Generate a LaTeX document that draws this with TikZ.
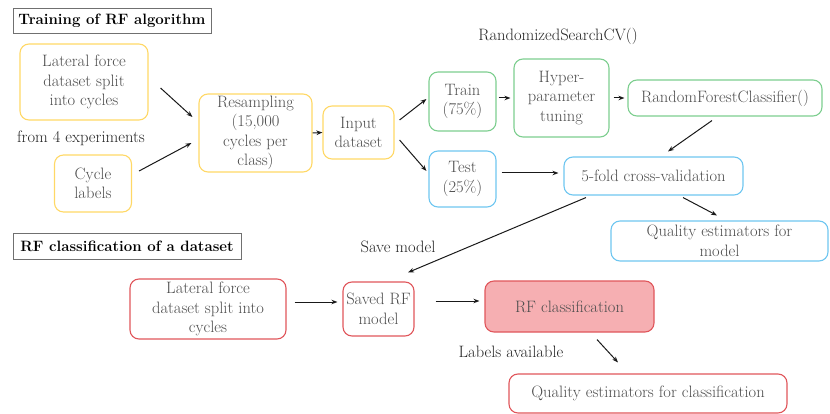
\documentclass[tikz,border=0pt]{standalone}
\usetikzlibrary{arrows.meta,calc}
\definecolor{txtgray}{HTML}{4D4D4D}
\definecolor{cyel}{HTML}{FFD866}
\definecolor{cgrn}{HTML}{7DCE8F}
\definecolor{cblu}{HTML}{6EC6F0}
\definecolor{cred}{HTML}{E0565B}
\definecolor{cpink}{HTML}{F6AFB2}
\definecolor{cframe}{HTML}{707070}
\tikzset{
  box/.style={draw, line width=1.1pt, rounded corners=9pt, align=center,
    text=txtgray, inner sep=1pt, font=\fontsize{16.5}{19.5}\selectfont},
  ybox/.style={box, draw=cyel},
  gbox/.style={box, draw=cgrn},
  bbox/.style={box, draw=cblu},
  rbox/.style={box, draw=cred},
  heading/.style={draw=cframe, line width=1pt, text=black, inner sep=1pt,
    font=\fontsize{15}{18}\selectfont\bfseries},
  note/.style={text=black!85, font=\fontsize{16.5}{19}\selectfont},
  arr/.style={-{Stealth[length=6pt,width=4.5pt]}, line width=1pt, black!90},
}
\begin{document}
\begin{tikzpicture}[x=1pt,y=-1pt]
\useasboundingbox (0,0) rectangle (830,414);

% ---- training part ----
\node[heading, minimum width=198pt, minimum height=25pt] (t1) at (112,21) {Training of RF algorithm};
\node[ybox, minimum width=128pt, minimum height=76pt] (lf1) at (84,82) {Lateral force\\dataset split\\into cycles};
\node[note] (exp) at (81,138) {from 4 experiments};
\node[ybox, minimum width=77pt, minimum height=57pt] (cyc) at (93,183.5) {Cycle\\labels};
\node[ybox, minimum width=113pt, minimum height=78pt] (res) at (255.5,133) {Resampling\\(15,000\\cycles per\\class)};
\node[ybox, minimum width=71pt, minimum height=53pt] (inp) at (358.5,132.5) {Input\\dataset};
\node[note] (rscv) at (558,36) {RandomizedSearchCV()};
\node[gbox, minimum width=67pt, minimum height=59pt] (train) at (462.5,101.5) {Train\\(75\%)};
\node[gbox, minimum width=95pt, minimum height=78pt] (hyp) at (561.5,98) {Hyper-\\parameter\\tuning};
\node[gbox, minimum width=194pt, minimum height=36pt] (rfc) at (725,98) {RandomForestClassifier()};
\node[bbox, minimum width=67pt, minimum height=56pt] (test) at (462.5,179) {Test\\(25\%)};
\node[bbox, minimum width=179pt, minimum height=38pt] (cv) at (653.5,176) {5-fold cross-validation};
\node[bbox, minimum width=217pt, minimum height=40pt] (qm) at (719.5,241) {Quality estimators for\\model};

% ---- classification part ----
\node[heading, minimum width=228pt, minimum height=25pt] (t2) at (127,246.5) {RF classification of a dataset};
\node[note] (save) at (398,247) {Save model};
\node[rbox, minimum width=156pt, minimum height=60pt] (lf2) at (208,309) {Lateral force\\dataset split into\\cycles};
\node[rbox, minimum width=71pt, minimum height=54pt] (srf) at (378.5,309) {Saved RF\\model};
\node[rbox, fill=cpink, minimum width=169pt, minimum height=51pt] (rfcl) at (569.5,306.5) {RF classification};
\node[note] (lab) at (511,352) {Labels available};
\node[rbox, minimum width=278pt, minimum height=39pt] (qc) at (648,393.5) {Quality estimators for classification};

% ---- connectors ----
\draw[arr] ($(lf1.east)+(12,6)$) -- ($(res.west)+(-6,-16)$);
\draw[arr] ($(cyc.east)+(7,-12.5)$) -- ($(res.west)+(-7,10)$);
\draw[arr] (res.east) -- (inp.west);
\draw[arr] ($(inp.east)+(5,-12.5)$) -- ($(train.west)+(-2,-2.5)$);
\draw[arr] ($(inp.east)+(5,7.5)$) -- ($(test.west)+(-2,-8)$);
\draw[arr] ($(train.east)+(2,-3.5)$) -- ($(hyp.west)+(-3,0)$);
\draw[arr] ($(hyp.east)+(4,0)$) -- ($(rfc.west)+(-3,0)$);
\draw[arr] ($(rfc.south)+(-13,4)$) -- ($(cv.north)+(14.5,-5)$);
\draw[arr] ($(test.east)+(5,-6)$) -- ($(cv.west)+(-5,-3)$);
\draw[arr] ($(cv.south)+(29.5,2)$) -- ($(qm.north)+(-2.5,-5)$);
\draw[arr] ($(cv.south)+(-67.5,2)$) -- ($(srf.north)+(29.5,-9)$);
\draw[arr] ($(lf2.east)+(8,-7)$) -- ($(srf.west)+(-5,-7)$);
\draw[arr] ($(srf.east)+(21,-8)$) -- ($(rfcl.west)+(-5,-5.5)$);
\draw[arr] ($(rfcl.south)+(27.5,7)$) -- ($(qc.north)+(-30,-11)$);
\end{tikzpicture}
\end{document}
